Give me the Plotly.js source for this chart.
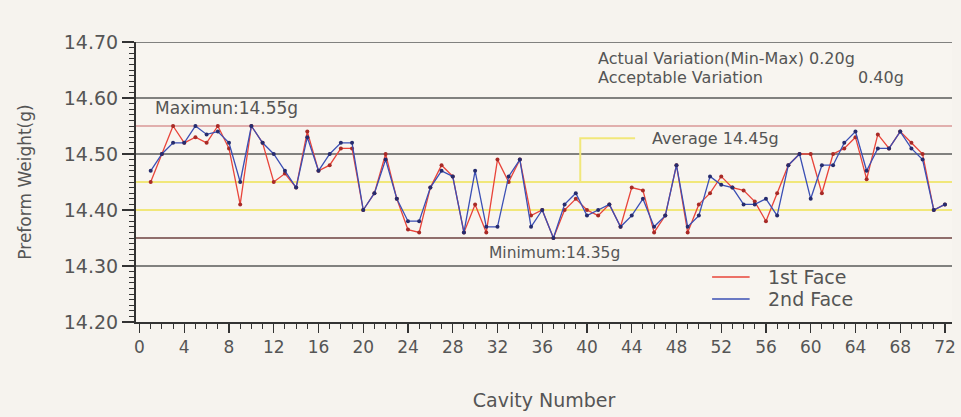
<!DOCTYPE html>
<html>
<head>
<meta charset="utf-8">
<script src="https://cdn.plot.ly/plotly-3.0.1.min.js"></script>
<style>html,body{margin:0;padding:0;background:#f6f3ee;}#chart{width:961px;height:417px;}</style>
</head>
<body>
<div id="chart"></div>
<script>
// Data
const cavities = Array.from({length: 72}, (_, i) => i + 1);
const firstFace = [
  14.45, 14.50, 14.55, 14.52, 14.53, 14.52, 14.55, 14.51, 14.41, 14.55,
  14.52, 14.45, 14.465, 14.44, 14.54, 14.47, 14.48, 14.51, 14.51, 14.40,
  14.43, 14.50, 14.42, 14.365, 14.36, 14.44, 14.48, 14.46, 14.36, 14.41,
  14.36, 14.49, 14.45, 14.49, 14.39, 14.40, 14.35, 14.40, 14.42, 14.40,
  14.39, 14.41, 14.37, 14.44, 14.435, 14.36, 14.39, 14.48, 14.36, 14.41,
  14.43, 14.46, 14.44, 14.435, 14.415, 14.38, 14.43, 14.48, 14.50, 14.50,
  14.43, 14.50, 14.51, 14.53, 14.455, 14.535, 14.51, 14.54, 14.52, 14.50,
  14.40, 14.41
];
const secondFace = [
  14.47, 14.50, 14.52, 14.52, 14.55, 14.535, 14.54, 14.52, 14.45, 14.55,
  14.52, 14.50, 14.47, 14.44, 14.53, 14.47, 14.50, 14.52, 14.52, 14.40,
  14.43, 14.49, 14.42, 14.38, 14.38, 14.44, 14.47, 14.46, 14.36, 14.47,
  14.37, 14.37, 14.46, 14.49, 14.37, 14.40, 14.35, 14.41, 14.43, 14.39,
  14.40, 14.41, 14.37, 14.39, 14.42, 14.37, 14.39, 14.48, 14.37, 14.39,
  14.46, 14.445, 14.44, 14.41, 14.41, 14.42, 14.39, 14.48, 14.50, 14.42,
  14.48, 14.48, 14.52, 14.54, 14.47, 14.51, 14.51, 14.54, 14.51, 14.49,
  14.40, 14.41
];
const seriesNames = ['1st Face', '2nd Face'];
const seriesColors = ['#e8443a', '#3b4fb4'];
const markerColors = ['#a82a26', '#262c6e'];
const xTickVals = [0, 4, 8, 12, 16, 20, 24, 28, 32, 36, 40, 44, 48, 52, 56, 60, 64, 68, 72];
const yTickVals = [14.20, 14.30, 14.40, 14.50, 14.60, 14.70];
const yTickText = ['14.20', '14.30', '14.40', '14.50', '14.60', '14.70'];
const gridLevels = [14.30, 14.50, 14.60, 14.70];
const maxLevel = 14.55, minLevel = 14.35, avgLevel = 14.45, lowBand = 14.40;
const avgCallout = {x0: 39.4, x1: 44.3, yTop: 14.528};

const textColor = '#555555';
const font = 'DejaVu Sans, Arial, sans-serif';

const traces = [firstFace, secondFace].map((ys, i) => ({
  x: cavities, y: ys, name: seriesNames[i], type: 'scatter', mode: 'lines+markers', showlegend: false,
  line: {color: seriesColors[i], width: 1.3}, marker: {color: markerColors[i], size: 4}
}));

const shapes = [];
gridLevels.forEach(v => shapes.push({type: 'line', xref: 'paper', x0: 0, x1: 1, yref: 'y', y0: v, y1: v,
  line: {color: '#5a5a5a', width: 1.3}, layer: 'below'}));
shapes.push({type: 'line', xref: 'paper', x0: 0, x1: 1, y0: maxLevel, y1: maxLevel, line: {color: '#c96a6a', width: 1.2}, layer: 'below'});
shapes.push({type: 'line', xref: 'paper', x0: 0, x1: 1, y0: minLevel, y1: minLevel, line: {color: '#6e4040', width: 1.3}, layer: 'below'});
shapes.push({type: 'line', xref: 'paper', x0: 0, x1: 1, y0: avgLevel, y1: avgLevel, line: {color: '#f1e77a', width: 2}, layer: 'below'});
shapes.push({type: 'line', xref: 'paper', x0: 0, x1: 1, y0: lowBand, y1: lowBand, line: {color: '#f1e77a', width: 2}, layer: 'below'});
shapes.push({type: 'path', xref: 'x', yref: 'y',
  path: `M ${avgCallout.x0} ${avgLevel} L ${avgCallout.x0} ${avgCallout.yTop} L ${avgCallout.x1} ${avgCallout.yTop}`,
  line: {color: '#f1e77a', width: 2}, layer: 'below'});

// manual legend (line samples without markers)
const legendY = [0.161, 0.082];
seriesNames.forEach((n, i) => shapes.push({type: 'line', xref: 'paper', yref: 'paper',
  x0: 0.706, x1: 0.752, y0: legendY[i], y1: legendY[i], line: {color: seriesColors[i], width: 1.5}}));

const f = s => ({family: font, size: s, color: textColor});
const annotations = [
  {x: 1.2, y: 14.582, xref: 'x', yref: 'y', text: 'Maximun:14.55g', showarrow: false, xanchor: 'left', yanchor: 'middle', font: f(17)},
  {x: 31.1, y: 14.323, xref: 'x', yref: 'y', text: 'Minimum:14.35g', showarrow: false, xanchor: 'left', yanchor: 'middle', font: f(15.5)},
  {x: 45.6, y: 14.528, xref: 'x', yref: 'y', text: 'Average 14.45g', showarrow: false, xanchor: 'left', yanchor: 'middle', font: f(16)},
  {x: 40.8, y: 14.671, xref: 'x', yref: 'y', text: 'Actual Variation(Min-Max) 0.20g', showarrow: false, xanchor: 'left', yanchor: 'middle', font: f(16)},
  {x: 40.8, y: 14.636, xref: 'x', yref: 'y', text: 'Acceptable Variation', showarrow: false, xanchor: 'left', yanchor: 'middle', font: f(16)},
  {x: 68.5, y: 14.636, xref: 'x', yref: 'y', text: '0.40g', showarrow: false, xanchor: 'right', yanchor: 'middle', font: f(16)}
];
seriesNames.forEach((n, i) => annotations.push({x: 0.772, y: legendY[i], xref: 'paper', yref: 'paper', text: n,
  showarrow: false, xanchor: 'left', yanchor: 'middle', font: f(19)}));

const layout = {
  width: 961, height: 417,
  margin: {l: 136, r: 9, t: 42, b: 95},
  paper_bgcolor: '#f6f3ee', plot_bgcolor: '#f8f5f0',
  font: {family: font, color: textColor},
  showlegend: false,
  xaxis: {range: [-0.313, 72.63], tickvals: xTickVals, ticks: 'outside', ticklen: 9, tickwidth: 1.3, tickcolor: '#333',
          minor: {dtick: 1, ticklen: 5, tickcolor: '#333', tickwidth: 1, ticks: 'outside', showgrid: false},
          showline: true, linecolor: '#333', linewidth: 2, showgrid: false, zeroline: false,
          tickfont: f(17),
          title: {text: 'Cavity Number', font: f(19), standoff: 37}},
  yaxis: {range: [14.20, 14.70], tickvals: yTickVals, ticktext: yTickText, ticks: 'outside', ticklen: 12, tickwidth: 1.3, tickcolor: '#333',
          minor: {dtick: 0.01, tick0: 14.2, ticklen: 5, tickcolor: '#333', tickwidth: 1, ticks: 'outside', showgrid: false},
          showline: true, linecolor: '#333', linewidth: 2, showgrid: false, zeroline: false,
          tickfont: f(19),
          title: {text: 'Preform Weight(g)', font: f(17), standoff: 28}},
  shapes: shapes,
  annotations: annotations
};

Plotly.newPlot('chart', traces, layout, {displayModeBar: false, staticPlot: true});
</script>
</body>
</html>
